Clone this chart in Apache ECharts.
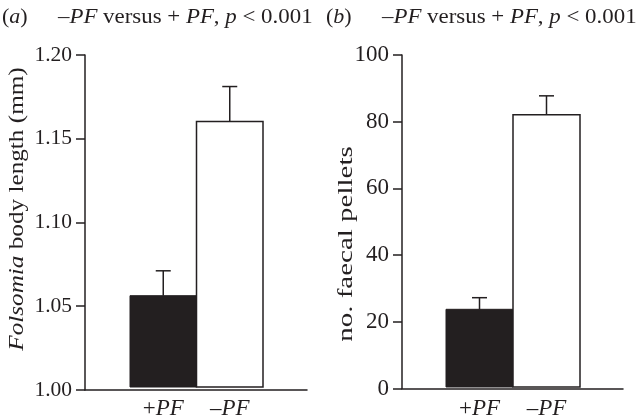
<!DOCTYPE html>
<html><head><meta charset="utf-8">
<script src="https://cdn.jsdelivr.net/npm/echarts@6/dist/echarts.min.js"></script>
<style>html,body{margin:0;padding:0;background:#fff}#c{width:636px;height:420px}</style>
</head><body><div id="c"></div>
<script>
const categories = ['+PF', '−PF'];
const categoryLabels = ['{n|+}{i|PF}', '{n|–}{i|PF}'];
const lengthMean = [1.055, 1.16];
const lengthErr = [0.015, 0.021];
const pelletMean = [23.4, 82.0];
const pelletErr = [3.5, 5.7];
const lengthAxis = { min: 1.0, max: 1.2, interval: 0.05 };
const pelletAxis = { min: 0, max: 100, interval: 20 };

const INK = '#231f20';
const FONT = '"Liberation Serif", "DejaVu Serif", serif';
const chart = echarts.init(document.getElementById('c'), null, { renderer: 'canvas' });

function frameGrid(left, right, top, bottom) { return { left, right, top, bottom, containLabel: false }; }

function valueY(gridIndex, ax, show, fs) {
  return {
    type: 'value', gridIndex, min: ax.min, max: ax.max, interval: ax.interval,
    show: show,
    axisLine: { show: true, lineStyle: { color: INK, width: 1.5 } },
    axisTick: { show: true, inside: false, length: 9, lineStyle: { color: INK, width: 1.5 } },
    axisLabel: { color: INK, fontFamily: FONT, fontSize: fs, margin: 13,
      formatter: v => ax.interval < 1 ? v.toFixed(2) : String(Math.round(v)) },
    splitLine: { show: false }
  };
}
function lineX(gridIndex) {
  return { type: 'value', gridIndex, min: 0, max: 1, z: 10,
    axisLine: { show: true, onZero: false, lineStyle: { color: INK, width: 1.5 } },
    axisTick: { show: false }, axisLabel: { show: false }, splitLine: { show: false } };
}
function catX(gridIndex) {
  return { type: 'category', gridIndex, data: categories,
    axisLine: { show: false }, axisTick: { show: false },
    axisLabel: { margin: 10, interval: 0, formatter: (v, i) => categoryLabels[i],
      rich: { n: { fontFamily: FONT, fontSize: 23, color: INK },
              i: { fontFamily: FONT, fontSize: 23, color: INK, fontStyle: 'italic' } } } };
}
function barSeries(xi, yi, vals, ax) {
  return { type: 'custom', xAxisIndex: xi, yAxisIndex: yi, animation: false, silent: true, z: 2,
    data: vals.map((v, i) => [i, v]),
    encode: { x: 0, y: 1 },
    renderItem: (params, api) => {
      const i = api.value(0), v = api.value(1);
      const top = api.coord([i, v]), base = api.coord([i, ax.min]);
      const w = api.size([1, 0])[0];
      return { type: 'rect',
        shape: { x: top[0] - w / 2, y: top[1], width: w, height: base[1] - top[1] },
        style: i === 0 ? { fill: INK, stroke: INK, lineWidth: 1 }
                       : { fill: '#ffffff', stroke: INK, lineWidth: 1.5 } };
    } };
}
function errSeries(xi, yi, means, errs) {
  return { type: 'custom', xAxisIndex: xi, yAxisIndex: yi, animation: false, silent: true, z: 5,
    data: means.map((m, i) => [i, m, errs[i]]),
    encode: { x: 0, y: 1 },
    renderItem: (params, api) => {
      const x = api.value(0), m = api.value(1), e = api.value(2);
      const p0 = api.coord([x, m]), p1 = api.coord([x, m + e]);
      const st = { stroke: INK, lineWidth: 1.5 };
      return { type: 'group', children: [
        { type: 'line', shape: { x1: p0[0], y1: p0[1], x2: p1[0], y2: p1[1] }, style: st },
        { type: 'line', shape: { x1: p1[0] - 7.5, y1: p1[1], x2: p1[0] + 7.5, y2: p1[1] }, style: st }
      ] };
    } };
}

const richTitle = {
  n: { fontFamily: FONT, fontSize: 22, fill: INK },
  i: { fontFamily: FONT, fontSize: 22, fill: INK, fontStyle: 'italic' }
};
const titleText = '{n|–}{i|PF}{n| versus + }{i|PF}{n|, }{i|p}{n| < 0.001}';

chart.setOption({
  animation: false,
  grid: [
    frameGrid(85, 636 - 307, 55, 30),
    frameGrid(130, 636 - 263, 55, 30),
    frameGrid(402, 636 - 623, 55, 31.5),
    frameGrid(446, 636 - 580, 55, 31.5)
  ],
  xAxis: [lineX(0), catX(1), lineX(2), catX(3)],
  yAxis: [valueY(0, lengthAxis, true, 21.5), valueY(1, lengthAxis, false, 21.5),
          valueY(2, pelletAxis, true, 23), valueY(3, pelletAxis, false, 23)],
  series: [
    barSeries(1, 1, lengthMean, lengthAxis), errSeries(1, 1, lengthMean, lengthErr),
    barSeries(3, 3, pelletMean, pelletAxis), errSeries(3, 3, pelletMean, pelletErr)
  ],
  graphic: [
    { type: 'text', x: 2, y: 17, style: { text: '{n|(}{i|a}{n|)}', rich: richTitle, verticalAlign: 'middle' } },
    { type: 'text', x: 58, y: 17, scaleX: 1.04, style: { text: titleText, rich: richTitle, verticalAlign: 'middle' } },
    { type: 'text', x: 326, y: 17, style: { text: '{n|(}{i|b}{n|)}', rich: richTitle, verticalAlign: 'middle' } },
    { type: 'text', x: 382, y: 17, scaleX: 1.04, style: { text: titleText, rich: richTitle, verticalAlign: 'middle' } },
    { type: 'text', x: 17, y: 209, rotation: Math.PI / 2, scaleX: 1.2,
      style: { text: '{i|Folsomia}{n| body length (mm)}', rich: {
        n: { fontFamily: FONT, fontSize: 21, fill: INK },
        i: { fontFamily: FONT, fontSize: 21, fill: INK, fontStyle: 'italic' } },
        align: 'center', verticalAlign: 'middle' } },
    { type: 'text', x: 346, y: 244, rotation: Math.PI / 2, scaleX: 1.38,
      style: { text: '{n|no. faecal pellets}', rich: {
        n: { fontFamily: FONT, fontSize: 21, fill: INK } },
        align: 'center', verticalAlign: 'middle' } }
  ]
});
</script></body></html>
